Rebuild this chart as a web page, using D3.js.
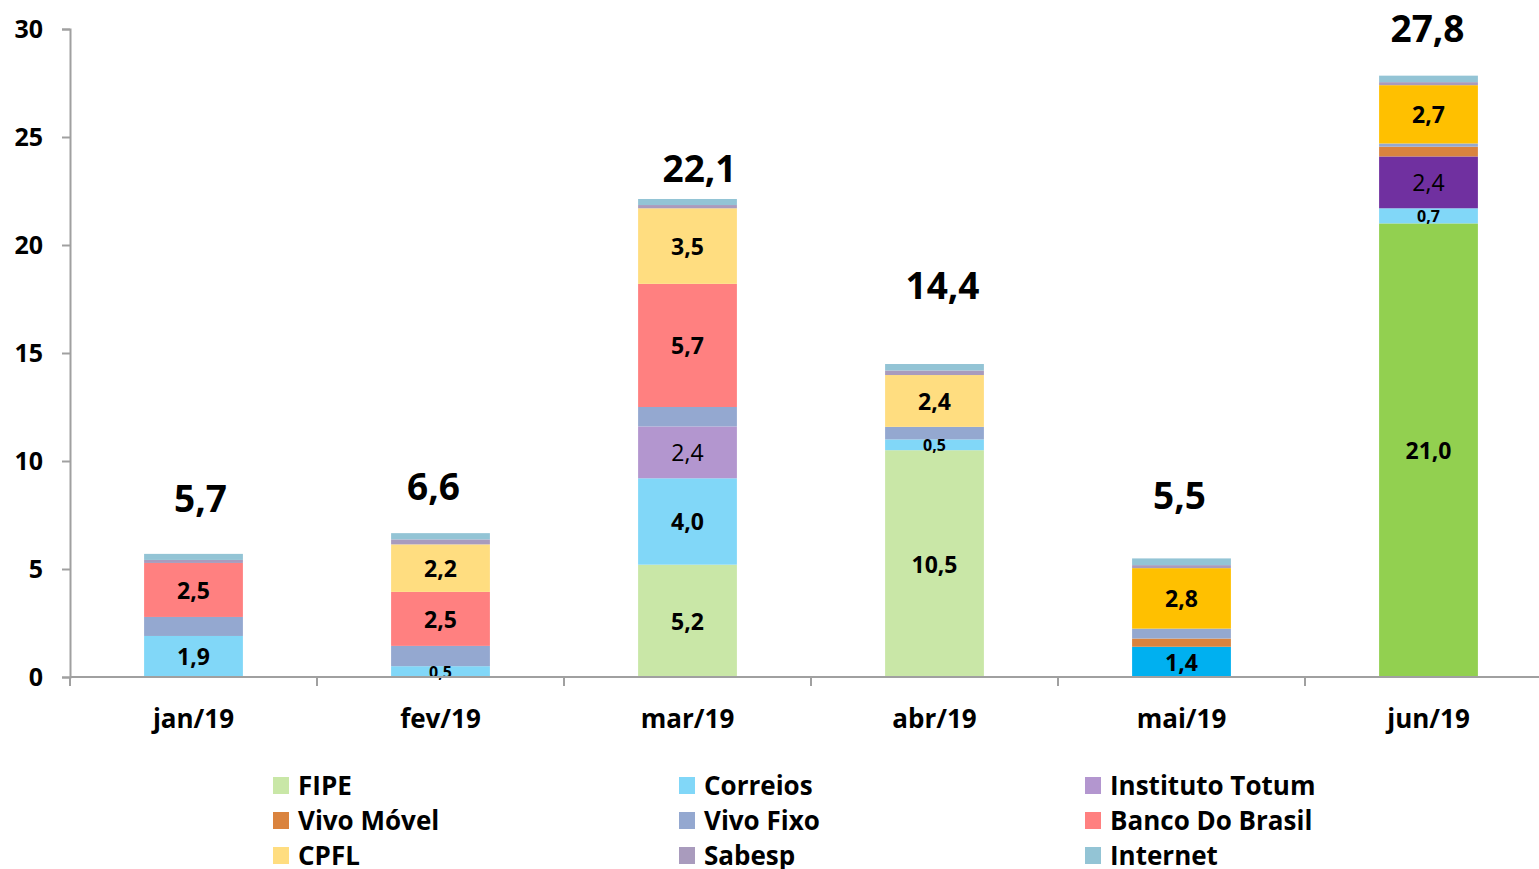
<!DOCTYPE html>
<html>
<head>
<meta charset="utf-8">
<script src="https://cdn.jsdelivr.net/npm/d3@7"></script>
<style>
    html, body { margin: 0; padding: 0; background: #fff; }
    svg { display: block; font-family: "Open Sans", sans-serif; }
</style>
</head>
<body>
<div class="content"></div>
<script>
var months = ["jan/19", "fev/19", "mar/19", "abr/19", "mai/19", "jun/19"];
var seriesNames = ["FIPE", "Correios", "Instituto Totum", "Vivo Móvel", "Vivo Fixo",
    "Banco Do Brasil", "CPFL", "Sabesp", "Internet"];

// one array per series, one value per month
var fipe = [0, 0, 5.2, 10.5, 0, 21.0];
var correios = [1.9, 0.5, 4.0, 0.5, 1.4, 0.7];
var institutoTotum = [0, 0, 2.4, 0, 0, 2.4];
var vivoMovel = [0, 0, 0, 0, 0.38, 0.45];
var vivoFixo = [0.88, 0.94, 0.9, 0.58, 0.46, 0.15];
var bancoDoBrasil = [2.5, 2.5, 5.7, 0, 0, 0];
var cpfl = [0, 2.2, 3.5, 2.4, 2.8, 2.7];
var sabesp = [0.14, 0.23, 0.15, 0.21, 0.14, 0.14];
var internet = [0.28, 0.29, 0.28, 0.3, 0.31, 0.3];

var totals = [5.7, 6.6, 22.1, 14.4, 5.5, 27.8];
// height (in chart units) where each total is written
var totalLabelAt = [8.3, 8.85, 23.6, 18.15, 8.45, 30.05];
var yTicks = [0, 5, 10, 15, 20, 25, 30];

(function (window) {
    'use strict';
    var width = 1539, height = 869,
        values = [fipe, correios, institutoTotum, vivoMovel, vivoFixo, bancoDoBrasil, cpfl, sabesp, internet],
        colors = ["#C9E7A7", "#81D7F8", "#B396CF", "#DA833E", "#94A8D0", "#FF8080", "#FFDD80", "#A99BBD", "#93C4D5"],
        // month index + series -> stronger colour used on the last bars
        highlight = {"4|Correios": "#00B0F0", "4|CPFL": "#FFC000", "5|FIPE": "#92D050",
            "5|Instituto Totum": "#7030A0", "5|CPFL": "#FFC000"},
        labelled = ["FIPE", "Correios", "Instituto Totum", "Banco Do Brasil", "CPFL"],
        totalShift = [7, -7, 12, 8, -2, -1],
        axisColor = "#A0A0A0",
        svg, x, xAxisScale, y, rows, stack, layers, fmt;

    fmt = function (v) {
        return d3.format(".1f")(v).replace(".", ",");
    };

    rows = months.map(function (m, i) {
        var row = {month: m, idx: i};
        seriesNames.forEach(function (s, k) {
            row[s] = values[k][i];
        });
        return row;
    });

    svg = d3.select(".content").append("svg")
        .attr("width", width)
        .attr("height", height);

    x = d3.scaleBand().domain(months).range([70, 1552]).paddingInner(0.6).paddingOuter(0.3);
    xAxisScale = d3.scaleBand().domain(months).range([70, 1552]);
    y = d3.scaleLinear().domain([0, 30]).range([677, 29]);

    stack = d3.stack().keys(seriesNames);
    layers = stack(rows);

    //Bars
    svg.append("g").selectAll("g")
        .data(layers)
        .join("g")
        .each(function (layer, k) {
            d3.select(this).selectAll("rect")
                .data(layer.filter(function (d) { return d[1] - d[0] > 0; }))
                .join("rect")
                .attr("x", function (d) { return x(d.data.month); })
                .attr("width", x.bandwidth())
                .attr("y", function (d) { return y(d[1]); })
                .attr("height", function (d) { return y(d[0]) - y(d[1]); })
                .attr("fill", function (d) {
                    return highlight[d.data.idx + "|" + layer.key] || colors[k];
                });
        });

    //Segment labels
    svg.append("g").selectAll("g")
        .data(layers.filter(function (l) { return labelled.indexOf(l.key) >= 0; }))
        .join("g")
        .each(function (layer) {
            d3.select(this).selectAll("text")
                .data(layer.filter(function (d) { return d[1] - d[0] >= 0.5; }))
                .join("text")
                .attr("x", function (d) { return x(d.data.month) + x.bandwidth() / 2; })
                .attr("y", function (d) { return (y(d[0]) + y(d[1])) / 2; })
                .attr("text-anchor", "middle")
                .attr("dominant-baseline", "central")
                .attr("font-size", function (d) { return d[1] - d[0] < 1 ? "16px" : "23px"; })
                .attr("font-weight", layer.key === "Instituto Totum" ? "normal" : "bold")
                .attr("fill", "#000")
                .text(function (d) { return fmt(d[1] - d[0]); });
        });

    //Totals
    svg.append("g").selectAll("text")
        .data(rows)
        .join("text")
        .attr("x", function (d) { return x(d.month) + x.bandwidth() / 2 + totalShift[d.idx]; })
        .attr("y", function (d) { return y(totalLabelAt[d.idx]); })
        .attr("text-anchor", "middle")
        .attr("dominant-baseline", "central")
        .attr("font-size", "37px")
        .attr("font-weight", "bold")
        .text(function (d) { return fmt(totals[d.idx]); });

    //Y axis
    var yAxis = svg.append("g")
        .attr("transform", "translate(70,0)")
        .call(d3.axisLeft(y).tickValues(yTicks).tickSize(8).tickPadding(19));
    yAxis.selectAll("path, line").attr("stroke", axisColor).attr("stroke-width", 2);
    yAxis.selectAll("text")
        .attr("font-family", "Open Sans, sans-serif")
        .attr("font-size", "25px")
        .attr("font-weight", "bold")
        .attr("fill", "#000");

    //X axis
    var xAxis = svg.append("g").attr("transform", "translate(0,677)");
    xAxis.append("line")
        .attr("x1", 70).attr("x2", width)
        .attr("stroke", axisColor).attr("stroke-width", 2);
    xAxis.selectAll("line.tick")
        .data(months)
        .join("line")
        .attr("class", "tick")
        .attr("x1", function (d) { return xAxisScale(d); })
        .attr("x2", function (d) { return xAxisScale(d); })
        .attr("y1", 0).attr("y2", 9)
        .attr("stroke", axisColor).attr("stroke-width", 2);
    xAxis.selectAll("text")
        .data(months)
        .join("text")
        .attr("x", function (d) { return xAxisScale(d) + xAxisScale.bandwidth() / 2; })
        .attr("y", 41)
        .attr("text-anchor", "middle")
        .attr("dominant-baseline", "central")
        .attr("font-size", "26px")
        .attr("font-weight", "bold")
        .text(function (d) { return d; });

    //Legend
    var legend = svg.append("g").selectAll("g")
        .data(seriesNames)
        .join("g")
        .attr("transform", function (d, i) {
            return "translate(" + (273 + (i % 3) * 406) + "," + (785 + Math.floor(i / 3) * 35) + ")";
        });
    legend.append("rect")
        .attr("x", 0).attr("y", -8)
        .attr("width", 16).attr("height", 17)
        .attr("fill", function (d, i) { return colors[i]; });
    legend.append("text")
        .attr("x", 25)
        .attr("y", 0)
        .attr("dominant-baseline", "central")
        .attr("font-size", "26px")
        .attr("font-weight", "bold")
        .text(function (d) { return d; });
}(window));
</script>
</body>
</html>
